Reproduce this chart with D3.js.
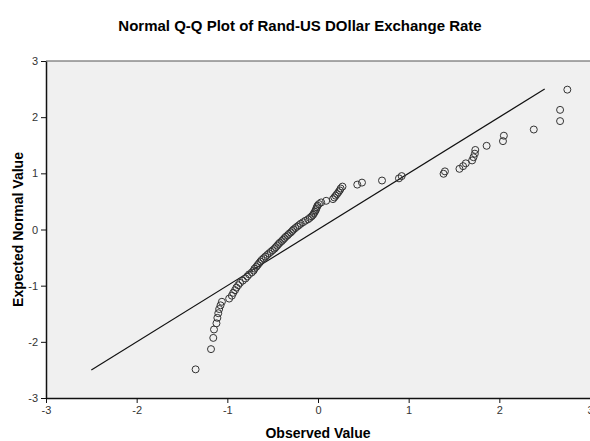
<!DOCTYPE html>
<html lang="en">
<head>
    <meta charset="UTF-8">
    <title>Normal Q-Q Plot</title>
    <style>
        body {
            margin: 0;
            background-color: white;
        }
        svg {
            font-family: "Liberation Sans", Arial, sans-serif;
        }
        .title {
            font-size: 15px;
            font-weight: bold;
        }
        .axis-title {
            font-size: 14px;
            font-weight: bold;
        }
        .tick text {
            font-size: 11px;
            fill: #333;
        }
        .point {
            fill: none;
            stroke: #333;
            stroke-width: 1;
        }
    </style>
</head>
<body>
    <svg width="590" height="441"></svg>
    <script src="https://cdn.jsdelivr.net/npm/d3@7"></script>
    <script>
        const svg = d3.select("svg");
        const width = +svg.attr("width");
        const height = +svg.attr("height");

        // observed values (x) and expected normal values (y), highest first
        const observed = [
            2.75, 2.67, 2.67, 2.38, 2.05, 2.04, 1.86, 1.735, 1.73, 1.715,
            1.70, 1.63, 1.60, 1.56, 1.40, 1.385, 0.923, 0.893, 0.706, 0.485,
            0.433, 0.27, 0.25, 0.24, 0.225, 0.21, 0.195, 0.18, 0.165, 0.09,
            0.035, 0.01, -0.005, -0.012, -0.02, -0.025, -0.035, -0.045, -0.055, -0.07,
            -0.09, -0.11, -0.14, -0.165, -0.19, -0.21, -0.23, -0.25, -0.27, -0.285,
            -0.30, -0.32, -0.335, -0.355, -0.37, -0.385, -0.40, -0.42, -0.435, -0.45,
            -0.465, -0.48, -0.50, -0.52, -0.54, -0.56, -0.58, -0.60, -0.62, -0.635,
            -0.65, -0.665, -0.68, -0.70, -0.71, -0.73, -0.76, -0.78, -0.80, -0.83,
            -0.86, -0.88, -0.90, -0.915, -0.935, -0.95, -0.98, -1.06, -1.075, -1.09,
            -1.10, -1.11, -1.12, -1.147, -1.155, -1.18, -1.35
        ];
        const expected = [
            2.49, 2.13, 1.93, 1.78, 1.67, 1.573, 1.49, 1.416, 1.35, 1.287,
            1.23, 1.178, 1.128, 1.08, 1.035, 0.992, 0.951, 0.911, 0.872, 0.835,
            0.799, 0.764, 0.730, 0.697, 0.664, 0.632, 0.601, 0.571, 0.541, 0.511,
            0.482, 0.453, 0.425, 0.397, 0.369, 0.342, 0.315, 0.287, 0.260, 0.234,
            0.207, 0.181, 0.155, 0.129, 0.103, 0.077, 0.052, 0.026, 0, -0.026,
            -0.052, -0.077, -0.103, -0.129, -0.155, -0.181, -0.207, -0.234, -0.260, -0.287,
            -0.315, -0.342, -0.369, -0.397, -0.425, -0.453, -0.482, -0.511, -0.541, -0.571,
            -0.601, -0.632, -0.664, -0.697, -0.730, -0.764, -0.799, -0.835, -0.872, -0.911,
            -0.951, -0.992, -1.035, -1.08, -1.128, -1.178, -1.23, -1.287, -1.35, -1.416,
            -1.49, -1.573, -1.67, -1.78, -1.93, -2.13, -2.49
        ];
        const refLine = [-2.5, 2.5];
        const ticks = [-3, -2, -1, 0, 1, 2, 3];

        const plotLeft = 46, plotRight = 590, plotTop = 61, plotBottom = 398;

        const x = d3.scaleLinear().domain([-3, 3]).range([plotLeft, plotRight]);
        const y = d3.scaleLinear().domain([-3, 3]).range([plotBottom, plotTop]);

        // plot background
        svg.append("rect")
            .attr("x", plotLeft)
            .attr("y", plotTop)
            .attr("width", plotRight - plotLeft)
            .attr("height", plotBottom - plotTop)
            .attr("fill", "#f0f0f0");

        svg.append("line")
            .attr("x1", plotLeft).attr("x2", plotRight)
            .attr("y1", plotTop).attr("y2", plotTop)
            .attr("stroke", "#555")
            .attr("stroke-width", 1.2);

        const fmt = d => String(d);
        const xAxis = svg.append("g")
            .attr("transform", `translate(0,${plotBottom})`)
            .call(d3.axisBottom(x).tickValues(ticks).tickFormat(fmt)
                .tickSize(5).tickSizeOuter(0).tickPadding(3));
        const yAxis = svg.append("g")
            .attr("transform", `translate(${plotLeft},0)`)
            .call(d3.axisLeft(y).tickValues(ticks).tickFormat(fmt)
                .tickSize(5).tickSizeOuter(0).tickPadding(3));
        [xAxis, yAxis].forEach(g => {
            g.attr("font-family", null).attr("font-size", null);
            g.select(".domain").attr("stroke", "#111").attr("stroke-width", 1.5);
            g.selectAll(".tick line").attr("stroke", "#111");
        });

        // reference line
        svg.append("line")
            .attr("x1", x(refLine[0])).attr("y1", y(refLine[0]))
            .attr("x2", x(refLine[1])).attr("y2", y(refLine[1]))
            .attr("stroke", "#111")
            .attr("stroke-width", 1.2);

        svg.selectAll(".point")
            .data(observed)
            .enter()
            .append("circle")
            .attr("class", "point")
            .attr("r", 3.5)
            .attr("cx", d => x(d))
            .attr("cy", (d, i) => y(expected[i]));

        svg.append("text")
            .attr("class", "title")
            .attr("x", 300)
            .attr("y", 31)
            .attr("text-anchor", "middle")
            .text("Normal Q-Q Plot of Rand-US DOllar Exchange Rate");

        svg.append("text")
            .attr("class", "axis-title")
            .attr("x", (plotLeft + plotRight) / 2)
            .attr("y", 438)
            .attr("text-anchor", "middle")
            .text("Observed Value");

        svg.append("text")
            .attr("class", "axis-title")
            .attr("transform", `translate(23,${(plotTop + plotBottom) / 2}) rotate(-90)`)
            .attr("text-anchor", "middle")
            .text("Expected Normal Value");
    </script>
</body>
</html>
